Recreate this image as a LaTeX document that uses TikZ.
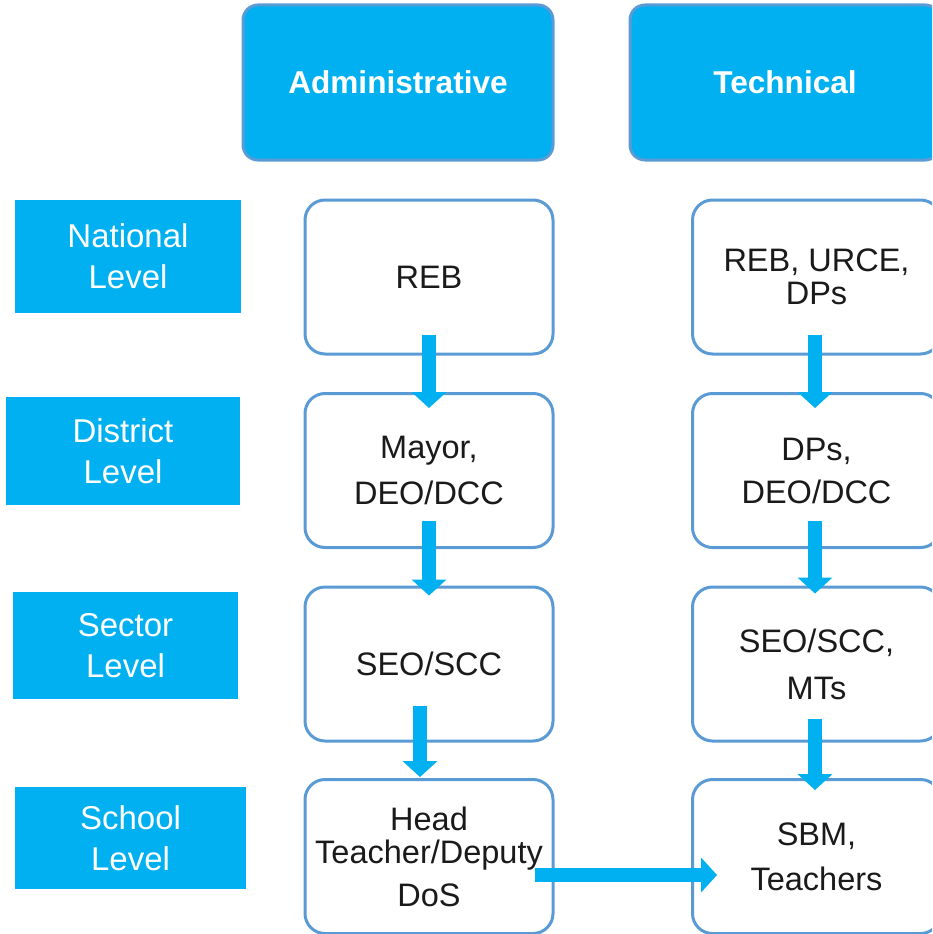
\documentclass[tikz,border=0pt]{standalone}
\usepackage{fontspec}
\setmainfont{Liberation Sans}
\usetikzlibrary{arrows.meta}
\definecolor{cyanfill}{HTML}{00B0F0}
\definecolor{boxline}{HTML}{5B9BD5}
\definecolor{txt}{HTML}{1A1A1A}
\tikzset{
  hdr/.style={draw=boxline,line width=3pt,fill=cyanfill,rounded corners=15pt,text=white,
    font=\fontsize{31.6}{33}\selectfont\bfseries,minimum width=310pt,minimum height=155pt},
  lvl/.style={fill=cyanfill,text=white,align=center,inner sep=0pt,
    font=\fontsize{33}{41}\selectfont},
  box/.style={draw=boxline,line width=3pt,fill=white,rounded corners=20pt,text=txt,align=center,
    inner sep=0pt,font=\fontsize{32.5}{33}\selectfont,minimum width=248pt,minimum height=154pt},
  blk/.style={draw=cyanfill,line width=14.5pt,-{Triangle[width=35pt,length=16pt,line width=0pt]}}
}
\begin{document}
\begin{tikzpicture}[x=1pt,y=-1pt]
\useasboundingbox (0,0) rectangle (932,934);
\clip (0,0) rectangle (932,934);

\node[hdr] (adm) at (398,82.5) {Administrative};
\node[hdr] (tec) at (785,82.5) {Technical};

\node[lvl,minimum width=226pt,minimum height=113pt] (nat) at (128,256.5) {National\\Level};
\node[lvl,minimum width=234pt,minimum height=108pt] (dis) at (123,451) {District\\Level};
\node[lvl,minimum width=225pt,minimum height=107pt] (sec) at (125.5,645.5) {Sector\\Level};
\node[lvl,minimum width=231pt,minimum height=102pt] (sch) at (130.5,838) {School\\Level};

\node[box] (reb) at (429,277) {REB};
\node[box] (may) at (429,470.5) {Mayor,\\[13pt]DEO/DCC};
\node[box] (seo) at (429,664) {SEO/SCC};
\node[box] (hea) at (429,856.5) {Head\\Teacher/Deputy\\[10pt]DoS};

\node[box] (urc) at (816.5,277) {REB, URCE,\\DPs};
\node[box] (dps) at (816.5,470.5) {DPs,\\[10pt]DEO/DCC};
\node[box] (mts) at (816.5,664) {SEO/SCC,\\[14pt]MTs};
\node[box] (sbm) at (816.5,856.5) {SBM,\\[12pt]Teachers};

\draw[blk] ([yshift=21pt]reb.south) -- ([yshift=-16pt]may.north);
\draw[blk] ([yshift=28pt]may.south) -- ([yshift=-10pt]seo.north);
\draw[blk] ([xshift=-9pt,yshift=37pt]seo.south) -- ([xshift=-9pt,yshift=1pt]hea.north);
\draw[blk] ([xshift=-1.5pt,yshift=21pt]urc.south) -- ([xshift=-1.5pt,yshift=-16pt]dps.north);
\draw[blk] ([xshift=-1.5pt,yshift=28pt]dps.south) -- ([xshift=-1.5pt,yshift=-8pt]mts.north);
\draw[blk] ([xshift=-1.5pt,yshift=24pt]mts.south) -- ([xshift=-1.5pt,yshift=-12pt]sbm.north);
\draw[blk] ([xshift=-20pt,yshift=-18.5pt]hea.east) -- ([xshift=26pt,yshift=-18.5pt]sbm.west);
\end{tikzpicture}
\end{document}
